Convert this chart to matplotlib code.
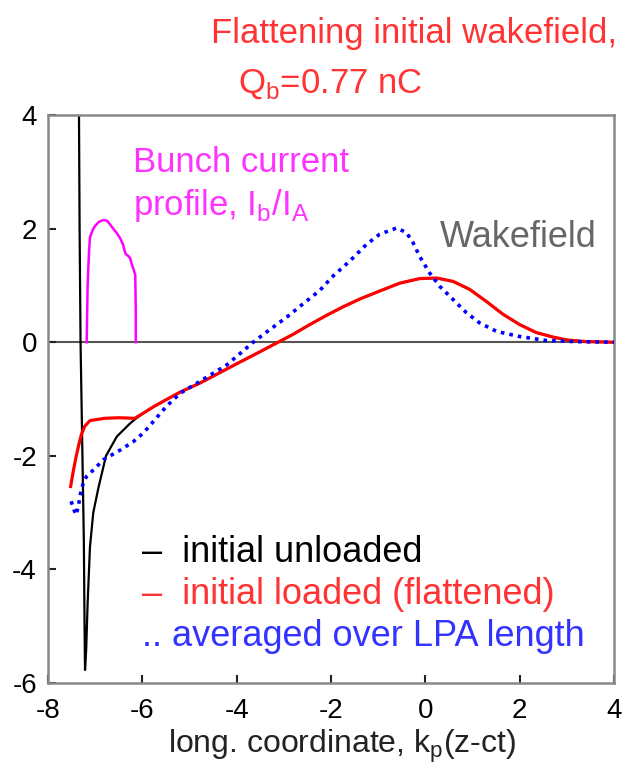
import matplotlib.pyplot as plt

plt.rcParams['font.family'] = ['Liberation Sans', 'DejaVu Sans']
plt.rcParams['axes.unicode_minus'] = False

# wakefield, initial loaded (flattened)
red_x = [-7.52, -7.46, -7.40, -7.34, -7.29, -7.22, -7.11, -6.8, -6.5, -6.16, -5.98, -5.77, -5.49,
         -5.2, -4.78, -4.4, -4.0, -3.65, -3.12, -2.8, -2.45, -2.1, -1.75, -1.39, -0.97, -0.54,
         -0.12, 0.24, 0.59, 0.94, 1.29, 1.65, 2.0, 2.35, 2.71, 3.0, 3.4, 4.0]
red_y = [-2.54, -2.25, -2.0, -1.78, -1.62, -1.48, -1.38, -1.34, -1.33, -1.34, -1.25, -1.14, -1.01,
         -0.88, -0.72, -0.555, -0.38, -0.23, 0.0, 0.14, 0.31, 0.47, 0.62, 0.76, 0.90, 1.04,
         1.12, 1.13, 1.07, 0.93, 0.72, 0.49, 0.31, 0.17, 0.09, 0.04, 0.01, 0.0]

# initial unloaded: spike at the bunch, same as loaded further ahead
black_x = [-7.345, -7.33, -7.31, -7.29, -7.26, -7.24, -7.225, -7.215, -7.19, -7.16, -7.11, -7.04,
           -6.93, -6.77, -6.54, -6.26, -6.16]
black_y = [4.3, 2.0, 0.0, -1.0, -2.5, -3.5, -5.0, -5.77, -5.4, -4.6, -3.6, -3.0,
           -2.56, -2.0, -1.66, -1.43, -1.36]

# averaged over LPA length
blue_x = [-7.51, -7.45, -7.40, -7.35, -7.30, -7.24, -7.18, -7.0, -6.83, -6.47, -6.19, -5.98, -5.77,
          -5.49, -5.2, -4.78, -4.21, -3.65, -3.3, -2.94, -2.6, -2.24, -1.95, -1.6, -1.25,
          -0.97, -0.61, -0.40, -0.26, -0.12, 0.09, 0.31, 0.59, 0.87, 1.15, 1.51, 2.0, 2.56, 3.2, 4.0]
blue_y = [-2.80, -2.95, -3.04, -2.85, -2.62, -2.45, -2.36, -2.22, -2.07, -1.90, -1.75, -1.60, -1.40,
          -1.13, -0.90, -0.69, -0.40, 0.0, 0.22, 0.44, 0.67, 0.91, 1.17, 1.43, 1.72,
          1.90, 2.01, 1.93, 1.75, 1.51, 1.22, 0.98, 0.75, 0.52, 0.34, 0.19, 0.10, 0.03, 0.01, 0.0]

# bunch current profile
bunch_x = [-7.18, -7.16, -7.13, -7.11, -7.05, -7.0, -6.92, -6.83, -6.75, -6.69, -6.6, -6.54, -6.47,
           -6.41, -6.38, -6.35, -6.3, -6.26, -6.22, -6.18, -6.15, -6.14, -6.14]
bunch_y = [0.0, 1.0, 1.6, 1.85, 1.98, 2.05, 2.12, 2.15, 2.14, 2.08, 1.98, 1.92, 1.83,
           1.72, 1.62, 1.55, 1.52, 1.48, 1.36, 1.27, 1.18, 0.6, 0.0]

xticks = [-8, -6, -4, -2, 0, 2, 4]
yticks = [-6, -4, -2, 0, 2, 4]

W, H = 626, 771
fig = plt.figure(figsize=(W / 100, H / 100), dpi=100)
ax = fig.add_axes([48 / W, 1 - 683 / H, 566 / W, 568 / H])

ax.axhline(0, color='#555555', lw=1.5, zorder=1)
tail = [i for i, x in enumerate(red_x) if x > -6.1]
ax.plot(black_x + [red_x[i] for i in tail], black_y + [red_y[i] for i in tail],
        color='black', lw=1.6, zorder=2)
ax.plot(red_x, red_y, color='#ff0000', lw=2.3, zorder=3)
ax.plot(blue_x, blue_y, color='#0000ff', lw=2.6, ls=(0, (1, 1.4)), zorder=4)
ax.plot(bunch_x, bunch_y, color='#ff00ff', lw=1.8, zorder=3)

ax.set_xlim(-8, 4)
ax.set_ylim(-6, 4)
ax.set_xticks(xticks)
ax.set_yticks(yticks)
ax.tick_params(direction='in', length=6, width=1.5, color='#222222', labelsize=20)
ax.tick_params(axis='x', pad=11)
ax.tick_params(axis='y', pad=8)
for s in ax.spines.values():
    s.set_color('#888888')
    s.set_linewidth(1.8)


def ftext(px, py, s, **kw):
    fig.text(px / W, 1 - py / H, s, va='baseline', **kw)


ftext(211, 43, 'Flattening initial wakefield,', color='#ff3333', fontsize=25)
ftext(238, 93, r'Q$_\mathregular{b}$=0.77 nC', color='#ff3333', fontsize=25)
ftext(133, 172, 'Bunch current', color='#ff33ff', fontsize=25)
ftext(133, 215, r'profile, I$_\mathregular{b}$/I$_\mathregular{A}$', color='#ff33ff', fontsize=25)
ftext(440, 247, 'Wakefield', color='#666666', fontsize=26)
ftext(142, 562, '–  initial unloaded', color='black', fontsize=26)
ftext(142, 604, '–  initial loaded (flattened)', color='#ff3333', fontsize=26)
ftext(142, 646, '.. averaged over LPA length', color='#3333ff', fontsize=26)
ftext(168, 753, r'long. coordinate, k$_\mathregular{p}$(z-ct)', color='#222222', fontsize=23)

fig.savefig('out.png', dpi=100)
